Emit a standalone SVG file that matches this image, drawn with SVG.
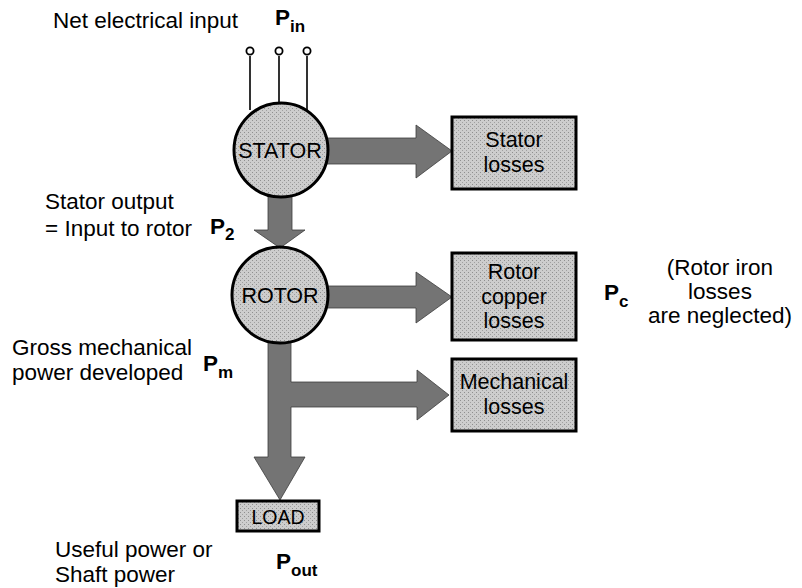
<svg xmlns="http://www.w3.org/2000/svg" width="802" height="588" viewBox="0 0 802 588">
<defs>
<pattern id="stip" width="4" height="4" patternUnits="userSpaceOnUse">
<rect width="4" height="4" fill="#cdcdcd"/>
<rect x="0" y="0" width="1" height="1" fill="#8f8f8f"/>
<rect x="2" y="2" width="1" height="1" fill="#a0a0a0"/>
</pattern>
</defs>
<style>
text{font-family:"Liberation Sans",Arial,sans-serif;font-size:22.5px;fill:#000}
.n{font-size:21.5px}
.c{text-anchor:middle}
.b{font-weight:bold}
.s{font-size:17px;font-weight:bold}
.box{fill:url(#stip);stroke:#000;stroke-width:3}
.arr{fill:#747474;stroke:#3c3c3c;stroke-width:0.8}
.wire{stroke:#000;stroke-width:1.6;fill:none}
.term{fill:#fff;stroke:#000;stroke-width:1.8}
</style>
<rect width="802" height="588" fill="#fff"/>

<g id="connectors">
<path class="arr" d="M322,138 H416 V125 L452,151 L416,178 V164 H322 Z"/>
<path class="arr" d="M268,192 H292 V230 H305 L280,248 L254,230 H268 Z"/>
<path class="arr" d="M322,286 H416 V272 L452,297 L416,323 V308 H322 Z"/>
<path class="arr" d="M268,338 H291 V382 H417 V370 L449,395 L417,420 V407 H291 V457 H305 L280,500 L254,457 H268 Z"/>
<path class="wire" d="M250,56 V110 M279,56 V104 M307,56 V110"/>
</g>

<g id="input-label">
<text x="53" y="28">Net electrical input</text>
<text x="275" y="25" class="b">P<tspan class="s" dy="7">in</tspan></text>
<circle class="term" cx="250" cy="51" r="3.6"/>
<circle class="term" cx="279" cy="51" r="3.6"/>
<circle class="term" cx="307" cy="51" r="3.6"/>
</g>

<g id="stator">
<circle cx="281" cy="150" r="47" fill="url(#stip)" stroke="#000" stroke-width="3"/>
<text x="280" y="158" class="c n">STATOR</text>
</g>

<g id="stator-losses">
<rect class="box" x="452" y="117" width="124" height="72"/>
<text x="514" y="147" class="c n">Stator</text>
<text x="514" y="172" class="c n">losses</text>
</g>

<g id="p2-label">
<text x="45" y="209">Stator output</text>
<text x="45" y="236">= Input to rotor</text>
<text x="210" y="234" class="b">P<tspan class="s" dy="6">2</tspan></text>
</g>

<g id="rotor">
<circle cx="280" cy="295" r="48" fill="url(#stip)" stroke="#000" stroke-width="3"/>
<text x="280" y="303" class="c n">ROTOR</text>
</g>

<g id="rotor-copper-losses">
<rect class="box" x="452" y="253" width="124" height="87"/>
<text x="514" y="279" class="c n">Rotor</text>
<text x="514" y="304" class="c n">copper</text>
<text x="514" y="328" class="c n">losses</text>
</g>

<g id="pc-label">
<text x="604" y="300" class="b">P<tspan class="s" dy="7">c</tspan></text>
<text x="720" y="275" class="c">(Rotor iron</text>
<text x="720" y="299" class="c">losses</text>
<text x="720" y="323" class="c">are neglected)</text>
</g>

<g id="pm-label">
<text x="12" y="355">Gross mechanical</text>
<text x="12" y="380">power developed</text>
<text x="203" y="371" class="b">P<tspan class="s" dy="7">m</tspan></text>
</g>

<g id="mechanical-losses">
<rect class="box" x="452" y="359" width="124" height="72"/>
<text x="514" y="389" class="c n">Mechanical</text>
<text x="514" y="414" class="c n">losses</text>
</g>

<g id="load">
<rect class="box" x="237" y="501" width="82" height="30"/>
<text x="278" y="524" class="c" style="font-size:19.5px">LOAD</text>
</g>

<g id="pout-label">
<text x="55" y="557">Useful power or</text>
<text x="55" y="582">Shaft power</text>
<text x="276" y="569" class="b">P<tspan class="s" dy="7">out</tspan></text>
</g>
</svg>
